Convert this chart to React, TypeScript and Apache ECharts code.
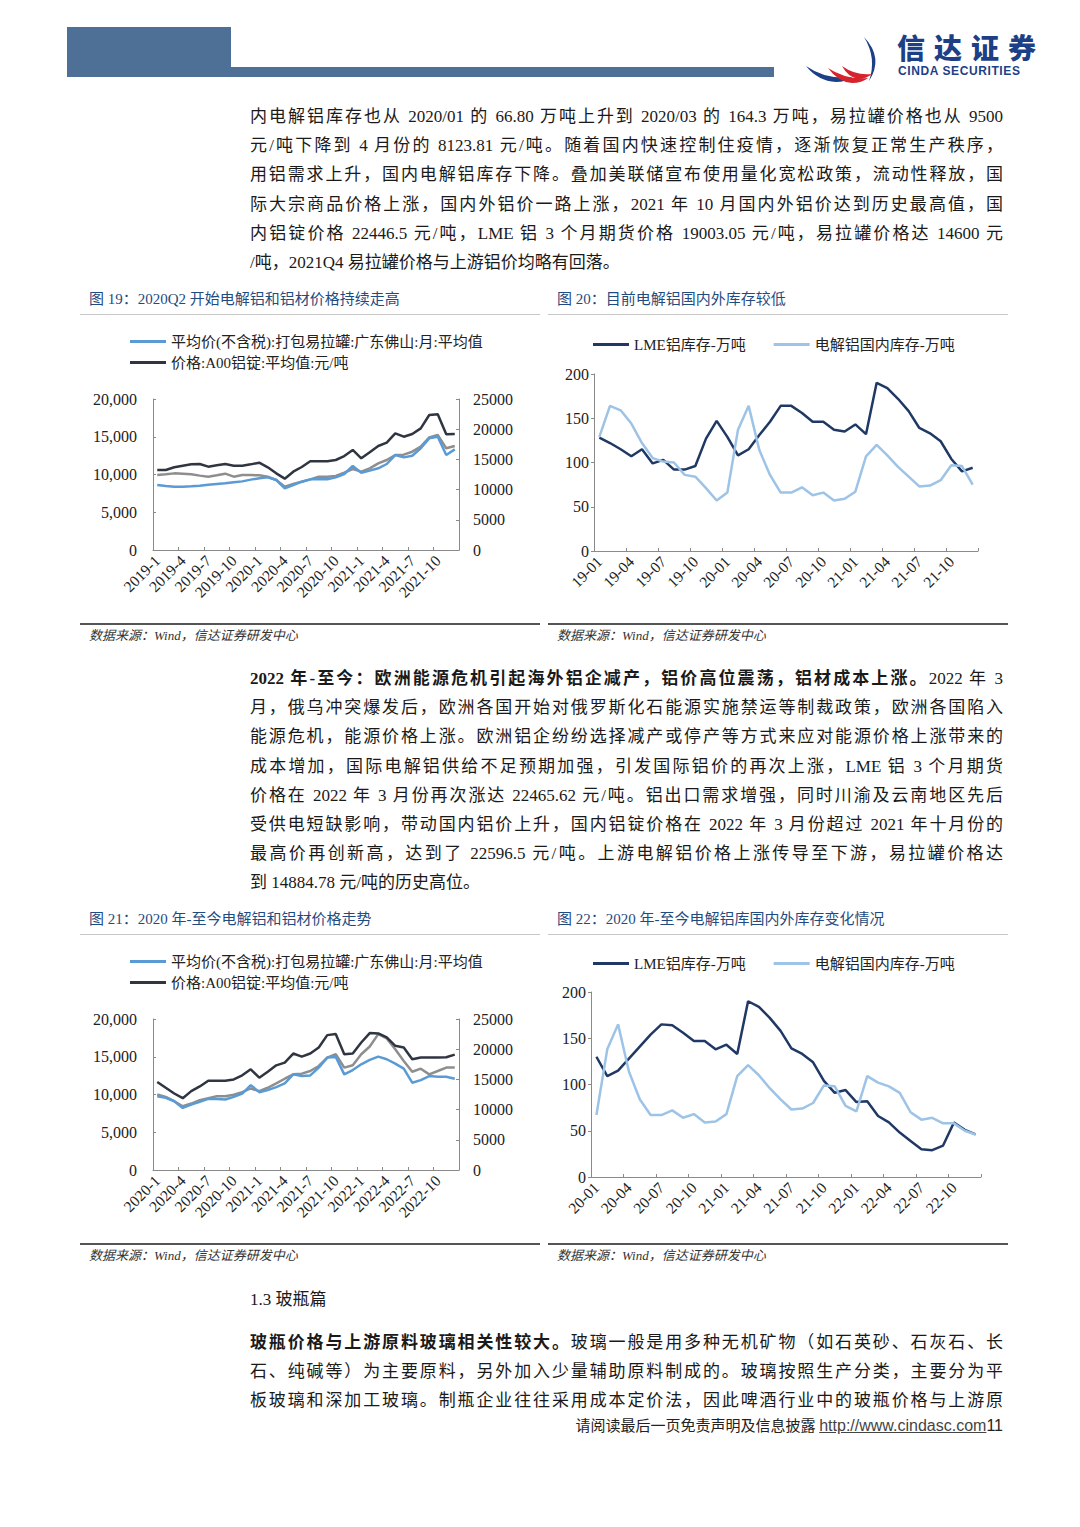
import React, { useEffect, useRef } from "react";
import * as echarts from "echarts";

const SERIF = '"Liberation Serif", "Times New Roman", "Noto Sans CJK SC", serif';
const SANS = '"Liberation Sans", Arial, "Noto Sans CJK SC", sans-serif';

// ---------- data ----------
const NAME_CAN = "平均价(不含税):打包易拉罐:广东佛山:月:平均值";
const NAME_A00 = "价格:A00铝锭:平均值:元/吨";
const NAME_REF = "参考价格";
const NAME_LME = "LME铝库存-万吨";
const NAME_DOM = "电解铝国内库存-万吨";

const monthsLong = (startYear: number, years: number) => {
  const out: string[] = [];
  for (let y = 0; y < years; y++) for (let m = 1; m <= 12; m++) out.push(`${startYear + y}-${m}`);
  return out;
};
const monthsShort = (startYear: number, years: number) => {
  const out: string[] = [];
  for (let y = 0; y < years; y++)
    for (let m = 1; m <= 12; m++) out.push(`${String(startYear + y).slice(2)}-${m < 10 ? "0" + m : m}`);
  return out;
};

const cats19 = monthsLong(2019, 3);
const cats21 = monthsLong(2020, 3);
const cats20 = monthsShort(2019, 3);
const cats22 = monthsShort(2020, 3);

// Figure 19 (2019-1 .. 2021-12)
const can19 = [8610, 8480, 8390, 8390, 8430, 8520, 8650, 8740, 8830, 8960, 9090, 9320,
  9490, 9620, 9270, 8170, 8610, 9050, 9360, 9360, 9360, 9620, 10070, 11130,
  10240, 10510, 10820, 11390, 12580, 12270, 12490, 13470, 14790, 15010, 12580, 13330];
const a0019 = [13250, 13250, 13690, 13960, 14180, 14240, 13800, 14020, 14240, 13960, 13960, 14180,
  14460, 13690, 12690, 11810, 12970, 13740, 14680, 14680, 14680, 14900, 15560, 16560,
  15180, 16170, 17220, 17770, 19320, 18760, 19210, 20140, 22350, 22460, 19150, 19210];
const ref19 = [9930, 10020, 10150, 10110, 10020, 9850, 9710, 9890, 10110, 9710, 9930, 9930,
  9890, 9710, 9270, 8390, 8740, 9050, 9360, 9710, 9710, 9800, 10240, 10730,
  10380, 10820, 11480, 11920, 12580, 12630, 13020, 13690, 14920, 15230, 13470, 13780];

// Figure 21 (2020-1 .. 2022-12)
const can21 = [9780, 9560, 9110, 8220, 8670, 9020, 9420, 9420, 9330, 9690, 10130, 11240,
  10310, 10580, 10980, 11470, 12670, 12440, 12530, 13560, 14890, 14980, 12670, 13240,
  14000, 14580, 15020, 14670, 14090, 13420, 11560, 11910, 12440, 12360, 12360, 12090];
const a0021 = [14560, 13610, 12670, 11890, 13060, 13830, 14780, 14780, 14780, 15000, 15670, 16670,
  15280, 16280, 17330, 17780, 19280, 18780, 19280, 20280, 22330, 22500, 19170, 19280,
  21110, 22670, 22610, 21940, 20560, 20280, 18330, 18610, 18610, 18610, 18670, 19110];
const ref21 = [10000, 9690, 9110, 8440, 8800, 9240, 9510, 9780, 9780, 9960, 10310, 10800,
  10440, 10890, 11470, 12090, 12670, 12760, 13110, 13780, 14890, 15330, 13560, 13870,
  15330, 16360, 18000, 17420, 16000, 14440, 13020, 13420, 12670, 13110, 13560, 13560];

// Figure 20 (19-01 .. 21-12)
const lme20 = [128, 122, 115, 107, 115, 99, 103, 92, 92, 96, 127, 147,
  129, 108, 115, 131, 146, 164, 164, 156, 146, 146, 137, 135,
  143, 132, 190, 184, 172, 158, 139, 133, 124, 104, 90, 94];
const dom20 = [129, 164, 159, 144, 122, 105, 101, 100, 86, 84, 71, 57,
  66, 137, 164, 114, 86, 66, 66, 72, 63, 66, 57, 59,
  67, 107, 120, 108, 95, 84, 73, 74, 80, 97, 96, 75];

// Figure 22 (20-01 .. 22-12)
const lme22 = [130, 109, 115, 128, 141, 154, 165, 164, 156, 147, 147, 138,
  143, 133, 190, 184, 172, 158, 139, 133, 124, 104, 91, 94,
  81, 82, 66, 59, 48, 39, 30, 29, 34, 59, 51, 46];
const dom22 = [67, 138, 165, 114, 84, 67, 67, 72, 64, 68, 59, 60,
  68, 109, 121, 110, 96, 84, 73, 74, 80, 99, 98, 77,
  71, 109, 102, 98, 91, 70, 62, 64, 58, 58, 50, 46];

// ---------- options ----------
const axisLineStyle = { lineStyle: { color: "#8a8a8a", width: 1 } };
const labelBase = { color: "#222", fontFamily: SERIF, fontSize: 16 };

function priceOption(cats: string[], can: number[], a00: number[], ref: number[]) {
  return {
    animation: false,
    legend: {
      data: [NAME_CAN, NAME_A00],
      orient: "vertical",
      left: 45,
      top: 4,
      icon: "rect",
      itemWidth: 36,
      itemHeight: 3,
      itemGap: 6,
      textStyle: { fontSize: 15, color: "#222", fontFamily: SERIF },
    },
    grid: { left: 73, right: 81, top: 74, height: 151 },
    xAxis: {
      type: "category",
      data: cats,
      boundaryGap: true,
      axisLine: axisLineStyle,
      axisTick: { show: true, inside: true, length: 3, interval: 2, lineStyle: { color: "#8a8a8a" } },
      axisLabel: { ...labelBase, fontSize: 15.5, interval: 2, rotate: 45, margin: 8 },
    },
    yAxis: [
      {
        type: "value",
        min: 0,
        max: 20000,
        interval: 5000,
        axisLine: { show: true, ...axisLineStyle },
        axisTick: { show: true, inside: true, length: 3, lineStyle: { color: "#8a8a8a" } },
        splitLine: { show: false },
        axisLabel: {
          ...labelBase,
          margin: 16,
          formatter: (v: number) => v.toLocaleString("en-US"),
        },
      },
      {
        type: "value",
        min: 0,
        max: 25000,
        interval: 5000,
        position: "right",
        axisLine: { show: true, ...axisLineStyle },
        axisTick: { show: true, inside: true, length: 3, lineStyle: { color: "#8a8a8a" } },
        splitLine: { show: false },
        axisLabel: { ...labelBase, margin: 14, formatter: (v: number) => String(v) },
      },
    ],
    series: [
      { name: NAME_REF, type: "line", data: ref, yAxisIndex: 0, symbol: "none", lineStyle: { color: "#8e8e8e", width: 2.5 }, itemStyle: { color: "#8e8e8e" } },
      { name: NAME_CAN, type: "line", data: can, yAxisIndex: 0, symbol: "none", lineStyle: { color: "#5b9bd5", width: 2.5 }, itemStyle: { color: "#5b9bd5" } },
      { name: NAME_A00, type: "line", data: a00, yAxisIndex: 1, symbol: "none", lineStyle: { color: "#2f3541", width: 2.5 }, itemStyle: { color: "#2f3541" } },
    ],
  };
}

function stockOption(cats: string[], lme: number[], dom: number[], grid: any, legendTop: number) {
  return {
    animation: false,
    legend: {
      data: [NAME_LME, NAME_DOM],
      left: 40,
      top: legendTop,
      icon: "rect",
      itemWidth: 36,
      itemHeight: 3,
      itemGap: 28,
      textStyle: { fontSize: 15, color: "#222", fontFamily: SERIF },
    },
    grid,
    xAxis: {
      type: "category",
      data: cats,
      boundaryGap: true,
      axisLine: axisLineStyle,
      axisTick: { show: true, inside: true, length: 3, interval: 2, lineStyle: { color: "#8a8a8a" } },
      axisLabel: { ...labelBase, fontSize: 15.5, interval: 2, rotate: 45, margin: 8 },
    },
    yAxis: {
      type: "value",
      min: 0,
      max: 200,
      interval: 50,
      axisLine: { show: true, ...axisLineStyle },
      axisTick: { show: true, inside: false, length: 3, lineStyle: { color: "#8a8a8a" } },
      splitLine: { show: false },
      axisLabel: { ...labelBase, margin: 5 },
    },
    series: [
      { name: NAME_LME, type: "line", data: lme, symbol: "none", lineStyle: { color: "#203864", width: 2.5 }, itemStyle: { color: "#203864" } },
      { name: NAME_DOM, type: "line", data: dom, symbol: "none", lineStyle: { color: "#9dc3e6", width: 2.5 }, itemStyle: { color: "#9dc3e6" } },
    ],
  };
}

// ---------- components ----------
function Chart({ option, left, top, width, height }: any) {
  const ref = useRef<HTMLDivElement>(null);
  useEffect(() => {
    if (!ref.current) return;
    const c = echarts.init(ref.current, undefined, { renderer: "svg" });
    c.setOption(option);
    return () => c.dispose();
  }, [option]);
  return <div ref={ref} style={{ position: "absolute", left, top, width, height }} />;
}

function Line({ top, children, last }: any) {
  return (
    <div
      style={{
        position: "absolute",
        left: 250,
        width: 753,
        top: top - 14,
        height: 29,
        lineHeight: "29px",
        fontSize: 17,
        color: "#1a1a1a",
        fontFamily: SERIF,
        textAlign: last ? "left" : "justify",
        textAlignLast: last ? "left" : "justify",
      } as any}
    >
      {children}
    </div>
  );
}

function Caption({ left, top, text }: any) {
  return (
    <>
      <div style={{ position: "absolute", left: left + 9, top: top - 10, fontSize: 15, lineHeight: "20px", color: "#1f4b80", fontFamily: SERIF, whiteSpace: "nowrap" }}>{text}</div>
      <div style={{ position: "absolute", left, top: top + 15, width: 460, height: 1, background: "#c8c8c8" }} />
    </>
  );
}

function Source({ left, top }: any) {
  return (
    <>
      <div style={{ position: "absolute", left, top: top - 12, width: 460, height: 2, background: "#555" }} />
      <div style={{ position: "absolute", left: left + 9, top: top - 8, fontSize: 13, lineHeight: "18px", color: "#333", fontStyle: "italic", fontFamily: SERIF, whiteSpace: "nowrap" }}>
        数据来源：Wind，信达证券研发中心
      </div>
    </>
  );
}

const opt19 = priceOption(cats19, can19, a0019, ref19);
const opt21 = priceOption(cats21, can21, a0021, ref21);
const opt20 = stockOption(cats20, lme20, dom20, { left: 46, right: 30, top: 49, height: 177 }, 7);
const opt22 = stockOption(cats22, lme22, dom22, { left: 43, right: 27, top: 47, height: 185 }, 6);

export default function App() {
  const B = { fontWeight: 700 } as any;
  return (
    <div style={{ position: "absolute", left: 0, top: 0, width: 1080, height: 1527, background: "#fff", overflow: "hidden" }}>
      {/* header */}
      <div style={{ position: "absolute", left: 67, top: 27, width: 164, height: 50, background: "#4e6f96" }} />
      <div style={{ position: "absolute", left: 231, top: 67, width: 543, height: 10, background: "#4e6f96" }} />
      <svg style={{ position: "absolute", left: 0, top: 0 }} width={1080} height={100}>
        <path d="M864,37 Q884,58 869,81 Q877,58 864,37 Z" fill="#1d3f86" />
        <path d="M806,66 Q826,80 852,77 Q846,82 836,82 Q818,81 806,66 Z" fill="#1d3f86" />
        <path d="M828,68 Q846,80 868,78 Q862,83 852,83 Q838,82 828,68 Z" fill="#d6242c" />
        <path d="M842,66 Q856,76 872,74 Q866,79 858,79 Q848,77 842,66 Z" fill="#d6242c" />
      </svg>
      <div style={{ position: "absolute", left: 897, top: 33, fontSize: 28, lineHeight: "28px", letterSpacing: 9, fontWeight: 900, color: "#1d3f86", fontFamily: '"Noto Sans CJK SC", sans-serif', whiteSpace: "nowrap" }}>信达证券</div>
      <div style={{ position: "absolute", left: 898, top: 65, fontSize: 12, lineHeight: "12px", fontWeight: 700, color: "#1d3f86", fontFamily: SANS, whiteSpace: "nowrap", letterSpacing: 0.6 }}>CINDA SECURITIES</div>

      {/* paragraph 1 */}
      <Line top={116}>内电解铝库存也从 2020/01 的 66.80 万吨上升到 2020/03 的 164.3 万吨，易拉罐价格也从 9500</Line>
      <Line top={145}>元/吨下降到 4 月份的 8123.81 元/吨。随着国内快速控制住疫情，逐渐恢复正常生产秩序，</Line>
      <Line top={174}>用铝需求上升，国内电解铝库存下降。叠加美联储宣布使用量化宽松政策，流动性释放，国</Line>
      <Line top={204}>际大宗商品价格上涨，国内外铝价一路上涨，2021 年 10 月国内外铝价达到历史最高值，国</Line>
      <Line top={233}>内铝锭价格 22446.5 元/吨，LME 铝 3 个月期货价格 19003.05 元/吨，易拉罐价格达 14600 元</Line>
      <Line top={262} last>/吨，2021Q4 易拉罐价格与上游铝价均略有回落。</Line>

      <Caption left={80} top={299} text="图 19：2020Q2 开始电解铝和铝材价格持续走高" />
      <Caption left={548} top={299} text="图 20：目前电解铝国内外库存较低" />
      <Chart option={opt19} left={80} top={325} width={460} height={295} />
      <Chart option={opt20} left={548} top={325} width={460} height={295} />
      <Source left={80} top={635} />
      <Source left={548} top={635} />

      {/* paragraph 2 */}
      <Line top={678}><span style={B}>2022 年-至今：欧洲能源危机引起海外铝企减产，铝价高位震荡，铝材成本上涨。</span>2022 年 3</Line>
      <Line top={707}>月，俄乌冲突爆发后，欧洲各国开始对俄罗斯化石能源实施禁运等制裁政策，欧洲各国陷入</Line>
      <Line top={736}>能源危机，能源价格上涨。欧洲铝企纷纷选择减产或停产等方式来应对能源价格上涨带来的</Line>
      <Line top={766}>成本增加，国际电解铝供给不足预期加强，引发国际铝价的再次上涨，LME 铝 3 个月期货</Line>
      <Line top={795}>价格在 2022 年 3 月份再次涨达 22465.62 元/吨。铝出口需求增强，同时川渝及云南地区先后</Line>
      <Line top={824}>受供电短缺影响，带动国内铝价上升，国内铝锭价格在 2022 年 3 月份超过 2021 年十月份的</Line>
      <Line top={853}>最高价再创新高，达到了 22596.5 元/吨。上游电解铝价格上涨传导至下游，易拉罐价格达</Line>
      <Line top={882} last>到 14884.78 元/吨的历史高位。</Line>

      <Caption left={80} top={919} text="图 21：2020 年-至今电解铝和铝材价格走势" />
      <Caption left={548} top={919} text="图 22：2020 年-至今电解铝库国内外库存变化情况" />
      <Chart option={opt21} left={80} top={945} width={460} height={295} />
      <Chart option={opt22} left={548} top={945} width={460} height={295} />
      <Source left={80} top={1255} />
      <Source left={548} top={1255} />

      {/* section 1.3 */}
      <Line top={1299} last>1.3 玻瓶篇</Line>
      <Line top={1342}><span style={B}>玻瓶价格与上游原料玻璃相关性较大。</span>玻璃一般是用多种无机矿物（如石英砂、石灰石、长</Line>
      <Line top={1371}>石、纯碱等）为主要原料，另外加入少量辅助原料制成的。玻璃按照生产分类，主要分为平</Line>
      <Line top={1400}>板玻璃和深加工玻璃。制瓶企业往往采用成本定价法，因此啤酒行业中的玻瓶价格与上游原</Line>

      {/* footer */}
      <div style={{ position: "absolute", right: 1080 - 1003, top: 1416, fontSize: 15, lineHeight: "20px", color: "#222", fontFamily: SERIF, whiteSpace: "nowrap" }}>
        请阅读最后一页免责声明及信息披露 <span style={{ fontFamily: SANS, fontSize: 16, textDecoration: "underline", color: "#444" }}>http://www.cindasc.com</span><span style={{ fontFamily: SANS, fontSize: 16 }}>11</span>
      </div>
    </div>
  );
}
